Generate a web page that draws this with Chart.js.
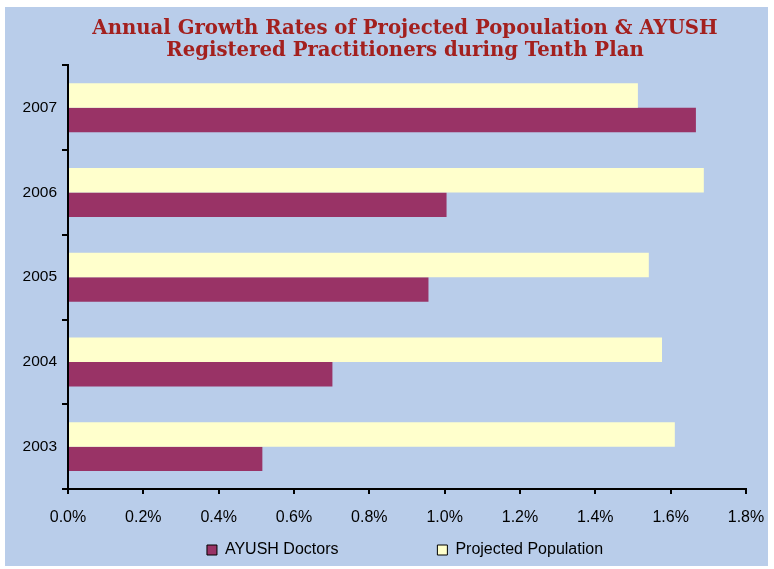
<!DOCTYPE html>
<html>
<head>
<meta charset="utf-8">
<script src="https://cdn.jsdelivr.net/npm/chart.js@4"></script>
<style>
  html, body { margin: 0; padding: 0; background: #fff; }
  #wrap { width: 774px; height: 569px; }
</style>
</head>
<body>
<div id="wrap"><canvas id="growthChart" width="774" height="569"></canvas></div>
<script>
// values (percent)
const years = ['2007', '2006', '2005', '2004', '2003'];
const projectedPopulation = [1.513, 1.688, 1.542, 1.577, 1.611];
const ayushDoctors = [1.667, 1.005, 0.957, 0.702, 0.516];
const xTicks = [0, 0.2, 0.4, 0.6, 0.8, 1.0, 1.2, 1.4, 1.6, 1.8];
const titleLines = [
  'Annual Growth Rates of Projected Popoulation & AYUSH',
  'Registered Practitioners during Tenth Plan'
];

Chart.defaults.font.family = '"Liberation Sans", Arial, sans-serif';
Chart.defaults.font.size = 16;
Chart.defaults.color = '#000';

const panelBg = {
  id: 'panelBg',
  beforeDraw(chart) {
    const c = chart.ctx;
    c.save();
    c.fillStyle = '#ffffff';
    c.fillRect(0, 0, chart.width, chart.height);
    c.fillStyle = '#B9CDEA';
    c.fillRect(5, 7, 763, 559);
    c.restore();
  }
};

const ctx = document.getElementById('growthChart').getContext('2d');
const myChart = new Chart(ctx, {
  type: 'bar',
  data: {
    labels: years,
    datasets: [{
      label: 'Projected Population',
      data: projectedPopulation,
      backgroundColor: '#FFFFCC',
      borderWidth: 0,
      categoryPercentage: 0.578,
      barPercentage: 1.0
    }, {
      label: 'AYUSH Doctors',
      data: ayushDoctors,
      backgroundColor: '#993366',
      borderWidth: 0,
      categoryPercentage: 0.578,
      barPercentage: 1.0
    }]
  },
  options: {
    indexAxis: 'y',
    responsive: false,
    animation: false,
    // right padding is negative so the title and legend centre sits right of the canvas centre
    layout: { padding: { left: 5, right: -31, top: 8, bottom: 1 } },
    plugins: {
      title: {
        display: true,
        text: titleLines,
        color: '#A3201E',
        font: { family: '"DejaVu Serif", serif', size: 19.7, weight: 'bold', lineHeight: 1.1 },
        padding: { top: 10, bottom: 4 }
      },
      legend: {
        position: 'bottom',
        reverse: true,
        labels: {
          boxWidth: 10,
          boxHeight: 10,
          padding: 10,
          font: { size: 16 },
          generateLabels(chart) {
            return chart.data.datasets.map((ds, i) => ({
              text: i === 1 ? ds.label + ' '.repeat(20) : ds.label,
              fillStyle: ds.backgroundColor,
              strokeStyle: '#000',
              lineWidth: 1,
              datasetIndex: i,
              hidden: false
            }));
          }
        }
      },
      tooltip: { enabled: false }
    },
    scales: {
      x: {
        min: 0,
        max: 1.8,
        afterBuildTicks(scale) {
          scale.ticks = xTicks.map(v => ({ value: v }));
        },
        afterFit(scale) {
          scale.height = 43;
          scale.paddingRight = 28;
        },
        border: { display: true, color: '#000', width: 2 },
        grid: { display: true, drawOnChartArea: false, tickLength: 5, color: '#000', lineWidth: 2 },
        ticks: {
          padding: 14,
          font: { size: 16 },
          callback: v => Number(v).toFixed(1) + '%'
        }
      },
      y: {
        afterFit(scale) {
          scale.width = 63;
        },
        border: { display: true, color: '#000', width: 2 },
        grid: { display: true, offset: true, drawOnChartArea: false, tickLength: 6, color: '#000', lineWidth: 2 },
        ticks: { padding: 5, font: { size: 15.5 } }
      }
    }
  },
  plugins: [panelBg]
});
</script>
</body>
</html>
